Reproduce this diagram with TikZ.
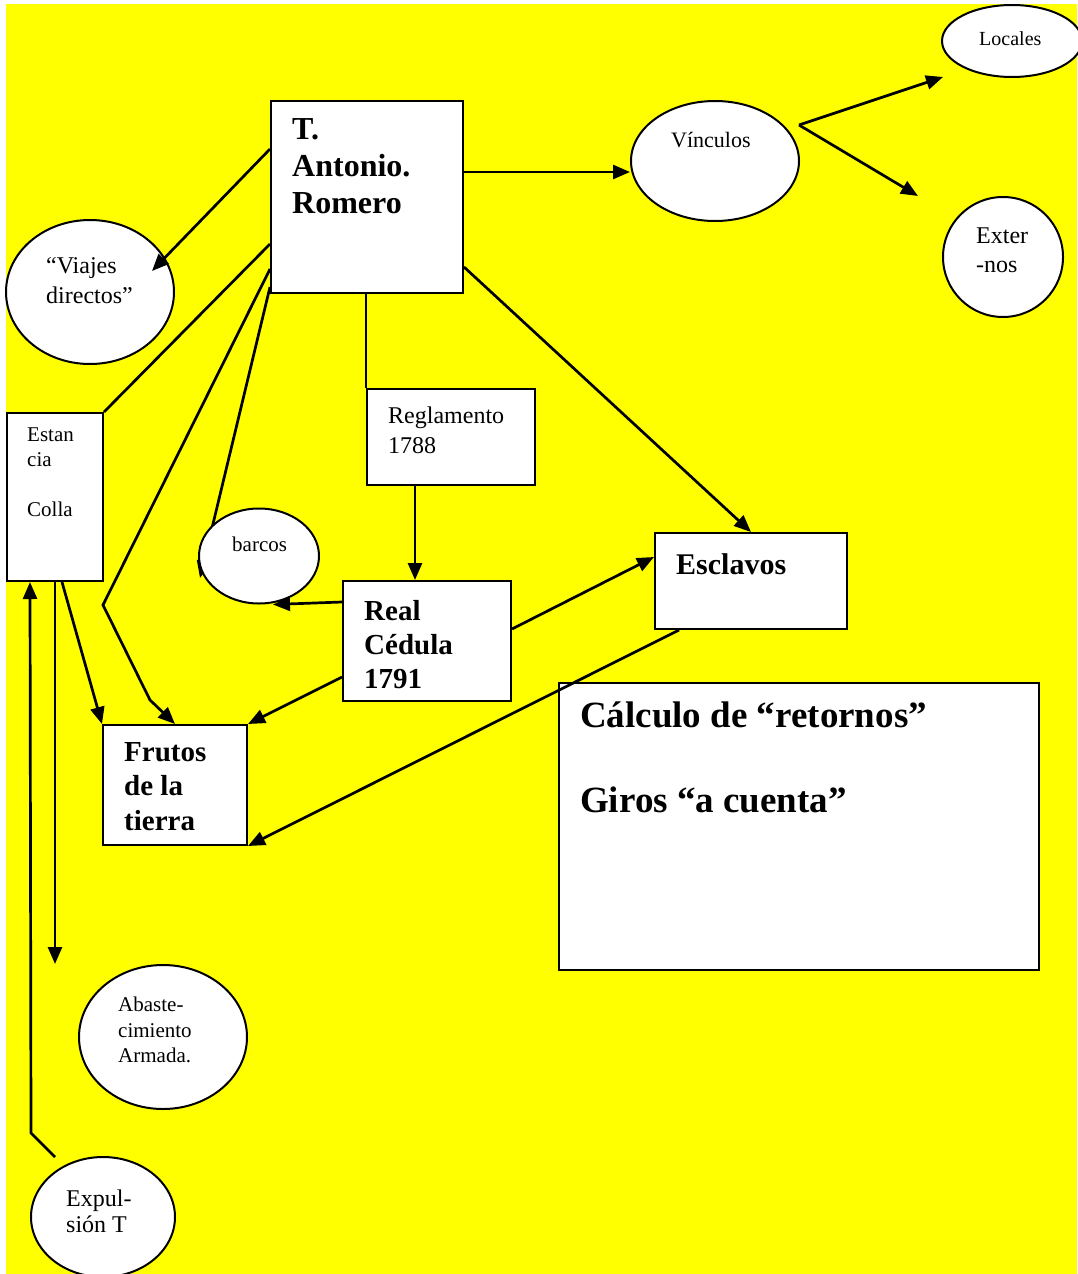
\documentclass[tikz,border=0pt]{standalone}
\usepackage{fontspec}
\setmainfont{Liberation Serif}
\usetikzlibrary{arrows.meta,shapes.geometric,backgrounds}
\definecolor{fondo}{RGB}{255,255,0}

\begin{document}
\begin{tikzpicture}[x=1pt, y=-1pt, >={Triangle[length=17pt,width=14pt]}]

\tikzset{
  box/.style={draw, fill=white, line width=2pt, inner sep=0pt},
  oval/.style={draw, ellipse, fill=white, line width=2pt, inner sep=0pt},
  txt/.style={anchor=north west, inner sep=0pt, align=left},
  arr/.style={->, line width=2.7pt},
  lin/.style={line width=2.7pt}
}

% --- Fondo (coordenadas en px, y hacia abajo) ---
\useasboundingbox (0,0) rectangle (1077,1274);
\begin{scope}[on background layer]
  \fill[fondo] (6,4) rectangle (1077,1274);
\end{scope}

% --- Cajas ---
\node[box, minimum width=192, minimum height=192] (tar)  at (367,197)   {};
\node[box, minimum width=168, minimum height=96]  (regl) at (451,437)   {};
\node[box, minimum width=168, minimum height=120] (real) at (427,641)   {};
\node[box, minimum width=192, minimum height=96]  (escl) at (751,581)   {};
\node[box, minimum width=480, minimum height=287] (calc) at (799,826.5) {};
\node[box, minimum width=144, minimum height=120] (frut) at (175,785)   {};
\node[box, minimum width=96,  minimum height=168] (estn) at (55,497)    {};

% --- Elipses ---
\node[oval, minimum width=168, minimum height=120] (vinc) at (715,161)  {};
\node[oval, minimum width=140, minimum height=72]  (loca) at (1012,41)  {};
\node[oval, minimum width=120, minimum height=120] (extn) at (1003,257) {};
\node[oval, minimum width=168, minimum height=144] (viaj) at (90,292)   {};
\node[oval, minimum width=120, minimum height=95]  (barc) at (259,556)  {};
\node[oval, minimum width=168, minimum height=144] (abas) at (163,1037) {};
\node[oval, minimum width=144, minimum height=120] (expu) at (103,1217) {};

% --- Textos ---
\node[txt, font=\fontsize{32}{37}\selectfont\bfseries] (tarT) at (292,118) {T.\\Antonio.\\Romero};
\node[txt, font=\fontsize{24}{30}\selectfont] (reglT) at (388,407) {Reglamento\\1788};
\node[txt, font=\fontsize{29}{34}\selectfont\bfseries] (realT) at (364,600) {Real\\Cédula\\1791};
\node[txt, font=\fontsize{30}{35}\selectfont\bfseries] (esclT) at (676,553) {Esclavos};
\node[txt, font=\fontsize{37}{42.5}\selectfont\bfseries] (calcT) at (580,702)
  {Cálculo de “retornos”\\[42.5pt]Giros “a cuenta”};
\node[txt, font=\fontsize{29}{34.5}\selectfont\bfseries] (frutT) at (124,742) {Frutos\\de la\\tierra};
\node[txt, font=\fontsize{21}{25}\selectfont] (estnT) at (27,428) {Estan\\cia\\[25pt]Colla};
\node[txt, font=\fontsize{22}{26}\selectfont] (vincT) at (671,132) {Vínculos};
\node[txt, font=\fontsize{20}{24}\selectfont] (locaT) at (979,31) {Locales};
\node[txt, font=\fontsize{24}{29}\selectfont] (extnT) at (976,228) {Exter\\-nos};
\node[txt, font=\fontsize{24}{30}\selectfont] (viajT) at (46,257) {“Viajes\\directos”};
\node[txt, font=\fontsize{21}{25}\selectfont] (barcT) at (232,537) {barcos};
\node[txt, font=\fontsize{21}{25.5}\selectfont] (abasT) at (118,997) {Abaste-\\cimiento\\Armada.};
\node[txt, font=\fontsize{24}{26}\selectfont] (expuT) at (66,1190) {Expul-\\sión T};

% --- Puntos libres ---
\coordinate (fork)  at ([shift={(84pt,36pt)}]vinc.center);
\coordinate (locIn) at ([shift={(-69pt,-36pt)}]loca.center);
\coordinate (extIn) at ([shift={(-85pt,61pt)}]extn.center);
\coordinate (bendA) at (103,605);
\coordinate (bendB) at (150,700);
\coordinate (bendC) at (31,1133);
\coordinate (expTop) at ([shift={(-48pt,60pt)}]expu.center);

% --- Flechas ---
\draw[arr] ([yshift=-49pt]tar.north west) -- ([shift={(62pt,21pt)}]viaj.center);
\draw[arr] ([yshift=-72pt]tar.north east) -- ([yshift=-72pt]tar.north east -| vinc.west);
\draw[arr] (fork) -- (locIn);
\draw[arr] (fork) -- (extIn);

\draw[lin] (regl.north west |- tar.south) -- (regl.north west);
\draw[arr] ([xshift=-36pt]regl.south) -- ([xshift=-36pt]regl.south |- real.north);
\draw[arr] ([yshift=-167pt]tar.north east) -- (escl.north);

\draw[lin] ([yshift=-144pt]tar.north west) -- (estn.north east);
\draw[arr] ([yshift=-169pt]tar.north west) -- (bendA) -- (bendB) -- (frut.north);
\begin{scope}[on background layer]
  \draw[arr] ([yshift=-187pt]tar.north west) -- ([shift={(-59pt,-22pt)}]barc.center);
\end{scope}

\draw[arr] ([yshift=-22pt]real.north west) -- ([xshift=14pt]barc.south);
\draw[arr] ([yshift=-97pt]real.north west) -- (frut.north east);
\draw[arr] ([yshift=-49pt]real.north east) -- ([yshift=-25pt]escl.north west);
\draw[arr] ([xshift=25pt]escl.south west) -- (frut.south east);

\draw[arr] ([xshift=7pt]estn.south) -- (frut.north west);
\draw[arr] (estn.south) -- (estn.south |- abas.north);
\draw[arr] (expTop) -- (bendC) -- ([xshift=24pt]estn.south west);

\end{tikzpicture}
\end{document}
